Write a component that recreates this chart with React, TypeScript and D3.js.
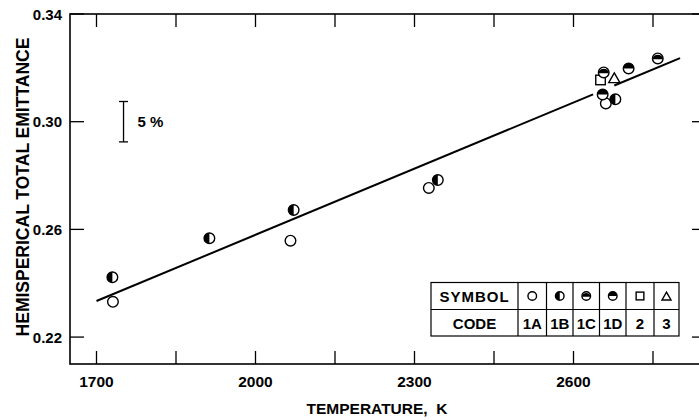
import * as d3 from "d3";

// temperature (K) and hemispherical total emittance of each measured point
const pointCodes = ["1A", "1B", "1B", "1A", "1B", "1A", "1B", "2", "1C", "3", "1D", "1C", "1A", "1D", "1B"];
const pointTemps = [1731, 1730, 1913, 2066, 2072, 2327, 2344, 2651, 2657, 2677, 2704, 2759, 2661, 2655, 2679];
const pointValues = [0.2331, 0.2422, 0.2567, 0.2558, 0.2672, 0.2754, 0.2783, 0.3155, 0.3183, 0.3163, 0.3198, 0.3235, 0.3068, 0.3101, 0.3083];

// straight fit line, with a break drawn through the cluster of points
const fitTemps = [1700, 2801];
const fitValues = [0.2334, 0.3236];
const fitGap = [2637, 2677];

const xTicks = [1700, 1850, 2000, 2150, 2300, 2450, 2600, 2750];
const xLabels = [1700, 2000, 2300, 2600];
const yTicks = [0.22, 0.26, 0.3, 0.34];

// 5 % scale bar drawn about 0.30
const barTemp = 1751;
const barCenter = 0.3;
const barPercent = 5;

const legendCodes = ["1A", "1B", "1C", "1D", "2", "3"];

const W = 699;
const H = 420;
const left = 70;
const top = 14;
const bottom = 364;
const right = 706;
const font = "'Liberation Sans', Arial, Helvetica, sans-serif";

function Marker({ code, cx, cy, r }: { code: string; cx: number; cy: number; r: number }) {
  const sw = 1.4;
  if (code === "2") {
    const s = r * 1.8;
    return <rect x={cx - s / 2} y={cy - s / 2} width={s} height={s} fill="#fff" stroke="#000" strokeWidth={sw} />;
  }
  if (code === "3") {
    const s = r * 2.1;
    const h = s * 0.87;
    const p = `M${cx},${cy - h / 2} L${cx + s / 2},${cy + h / 2} L${cx - s / 2},${cy + h / 2} Z`;
    return <path d={p} fill="#fff" stroke="#000" strokeWidth={sw} strokeLinejoin="miter" />;
  }
  let fillPath = "";
  if (code === "1B") fillPath = `M${cx},${cy - r} A${r},${r} 0 0 0 ${cx},${cy + r} Z`;
  if (code === "1D") fillPath = `M${cx - r},${cy} A${r},${r} 0 0 1 ${cx + r},${cy} Z`;
  if (code === "1C") {
    const dy = r * 0.15;
    const dx = Math.sqrt(r * r - dy * dy);
    fillPath = `M${cx - dx},${cy + dy} A${r},${r} 0 0 1 ${cx + dx},${cy + dy} Z`;
  }
  return (
    <g>
      <circle cx={cx} cy={cy} r={r} fill="#fff" stroke="#000" strokeWidth={sw} />
      {fillPath && <path d={fillPath} fill="#000" />}
    </g>
  );
}

export default function App() {
  const x = d3.scaleLinear().domain([1650, 2850]).range([left, right]);
  const y = d3.scaleLinear().domain([0.21, 0.34]).range([bottom, top]);

  const fit = d3.scaleLinear().domain(fitTemps).range(fitValues);
  const line = d3
    .line<number>()
    .x((t) => x(t))
    .y((t) => y(fit(t)));
  const seg1 = [fitTemps[0], fitGap[0]];
  const seg2 = [fitGap[1], fitTemps[1]];

  const barHalf = (barCenter * barPercent) / 100 / 2;
  const bx = x(barTemp);

  // legend table layout
  const lx = [431, 518, 546.5, 573, 599.5, 626, 654, 679];
  const ly = [282.5, 309.5, 336];

  return (
    <svg
      width={W}
      height={H}
      style={{ position: "absolute", left: 0, top: 0, background: "#fff" }}
      fontFamily={font}
      fontWeight="bold"
    >
      <rect width={W} height={H} fill="#fff" />

      {/* frame */}
      <rect x={left} y={top} width={right - left} height={bottom - top} fill="none" stroke="#000" strokeWidth={1.6} />

      {/* x ticks top and bottom */}
      {xTicks.map((t) => (
        <g key={t}>
          <line x1={x(t)} x2={x(t)} y1={bottom} y2={bottom - 13} stroke="#000" strokeWidth={1.3} />
          <line x1={x(t)} x2={x(t)} y1={top} y2={top + 13} stroke="#000" strokeWidth={1.3} />
        </g>
      ))}
      {xLabels.map((t) => (
        <text key={t} x={x(t)} y={387} textAnchor="middle" fontSize={15.5}>
          {t}
        </text>
      ))}

      {/* y ticks left and right */}
      {yTicks.map((v) => (
        <g key={v}>
          <line x1={left} x2={left + 14} y1={y(v)} y2={y(v)} stroke="#000" strokeWidth={1.3} />
          <line x1={right} x2={right - 14} y1={y(v)} y2={y(v)} stroke="#000" strokeWidth={1.3} />
          <text x={62} y={y(v) + 5.5} textAnchor="end" fontSize={15}>
            {d3.format(".2f")(v)}
          </text>
        </g>
      ))}

      {/* axis titles */}
      <text x={377} y={414} textAnchor="middle" fontSize={15.5} style={{ whiteSpace: "pre" }}>
        {"TEMPERATURE,  K"}
      </text>
      <text transform="translate(29,187) rotate(-90)" textAnchor="middle" fontSize={17.5}>
        HEMISPERICAL TOTAL EMITTANCE
      </text>

      {/* 5 % bar */}
      <line x1={bx} x2={bx} y1={y(barCenter + barHalf)} y2={y(barCenter - barHalf)} stroke="#000" strokeWidth={1.3} />
      <line x1={bx - 4.5} x2={bx + 4.5} y1={y(barCenter + barHalf)} y2={y(barCenter + barHalf)} stroke="#000" strokeWidth={1.3} />
      <line x1={bx - 4.5} x2={bx + 4.5} y1={y(barCenter - barHalf)} y2={y(barCenter - barHalf)} stroke="#000" strokeWidth={1.3} />
      <text x={bx + 14} y={y(barCenter) + 5} fontSize={15} style={{ whiteSpace: "pre" }}>
        {`${barPercent} %`}
      </text>

      {/* fit line */}
      <path d={line(seg1) ?? ""} fill="none" stroke="#000" strokeWidth={2} />
      <path d={line(seg2) ?? ""} fill="none" stroke="#000" strokeWidth={2} />

      {/* data points */}
      {pointCodes.map((c, i) => (
        <Marker key={i} code={c} cx={x(pointTemps[i])} cy={y(pointValues[i])} r={5.3} />
      ))}

      {/* legend table */}
      <g>
        <rect x={lx[0]} y={ly[0]} width={lx[7] - lx[0]} height={ly[2] - ly[0]} fill="#fff" stroke="#000" strokeWidth={1.2} />
        <line x1={lx[0]} x2={lx[7]} y1={ly[1]} y2={ly[1]} stroke="#000" strokeWidth={1.2} />
        {lx.slice(1, 7).map((v, i) => (
          <line key={i} x1={v} x2={v} y1={ly[0]} y2={ly[2]} stroke="#000" strokeWidth={1.2} />
        ))}
        <text x={(lx[0] + lx[1]) / 2} y={ly[0] + 19} textAnchor="middle" fontSize={15} letterSpacing={1}>
          SYMBOL
        </text>
        <text x={(lx[0] + lx[1]) / 2} y={ly[1] + 19} textAnchor="middle" fontSize={15}>
          CODE
        </text>
        {legendCodes.map((c, i) => {
          const cx = (lx[i + 1] + lx[i + 2]) / 2;
          return (
            <g key={c}>
              <Marker code={c} cx={cx} cy={(ly[0] + ly[1]) / 2} r={4.3} />
              <text x={cx} y={ly[1] + 19} textAnchor="middle" fontSize={15}>
                {c}
              </text>
            </g>
          );
        })}
      </g>
    </svg>
  );
}
